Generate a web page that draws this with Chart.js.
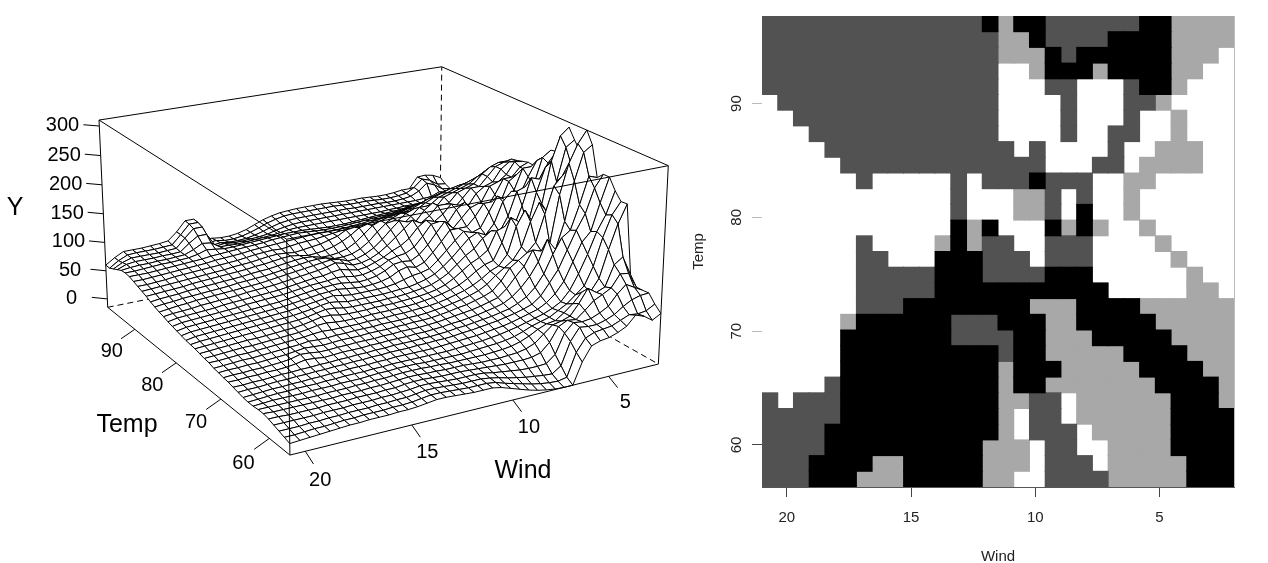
<!DOCTYPE html>
<html>
<head>
<meta charset="utf-8">
<title>Wind Temp</title>
<script src="https://cdn.jsdelivr.net/npm/chart.js@4/dist/chart.umd.js"></script>
<style>
  body { margin: 0; background: #fff; }
  canvas { position: absolute; top: 0; }
  #left { left: 0; }
  #right { left: 680px; }
</style>
</head>
<body>
<canvas id="left" width="690" height="563"></canvas>
<canvas id="right" width="588" height="563"></canvas>
<script>
// ranges of the two plots
const windLim = [20.7, 2.3];
const tempLim = [56, 97];
const yLim = [-15, 310];
const windTicks3d = [20, 15, 10, 5];
const tempTicks3d = [60, 70, 80, 90];
const yTicks3d = [0, 50, 100, 150, 200, 250, 300];

// surface heights, one row per temp step, one column per wind step
const surfaceY = [
[3,4,5,6,7,8,9,9,10,10, 10,11,11,12,14,16,16,15,14,13, 13,13,10,5,0,-5,-9,-12,-14,-15, -15,20,43,48,50,55,62,77,72,62, 70],
[6,6,7,8,8,9,10,10,11,11, 11,12,12,13,15,17,17,16,15,14, 14,14,12,7,3,-1,-5,-8,-10,-11, -8,30,50,56,58,60,66,72,70,72, 80],
[9,9,9,10,10,11,11,12,12,12, 13,13,14,14,16,18,18,17,16,15, 15,15,13,10,6,3,0,-2,-4,-5, 5,42,62,60,60,64,70,80,88,92, 93],
[12,12,12,12,12,13,13,13,14,14, 14,15,15,16,17,19,19,18,17,16, 16,16,15,12,10,8,6,5,5,6, 18,50,64,62,64,70,78,95,108,100, 92],
[15,15,14,14,14,14,15,15,15,16, 16,16,17,17,19,20,20,19,18,18, 18,17,16,15,14,13,13,13,14,18, 32,55,62,60,72,85,92,100,120,118, 92],
[17,16,16,16,16,16,16,16,17,17, 17,18,18,19,20,21,21,20,20,19, 19,19,18,17,17,17,18,19,22,28, 40,52,55,60,78,100,90,96,130,140, 108],
[17,17,17,17,17,17,17,18,18,18, 19,19,20,20,21,22,22,22,21,21, 20,20,20,20,20,21,22,24,28,34, 42,48,50,60,72,88,85,105,150,190, 220],
[16,17,18,18,18,18,19,19,19,20, 20,20,21,22,22,23,23,23,22,22, 22,22,22,23,24,25,26,28,31,36, 42,46,50,58,66,78,90,120,165,200, 219],
[16,17,18,19,19,20,20,20,21,21, 22,22,22,23,23,24,24,24,24,24, 24,24,25,26,27,28,30,32,35,38, 42,46,50,56,64,80,105,135,170,195, 232],
[17,18,19,20,20,21,21,22,22,23, 23,24,24,24,25,25,26,26,26,26, 26,27,28,29,30,31,33,35,37,40, 44,48,52,60,72,90,120,150,165,210, 250],
[19,20,20,21,22,22,23,23,24,24, 25,25,26,26,27,27,28,28,28,29, 29,30,30,31,33,34,36,38,40,43, 46,50,55,66,85,105,135,165,190,230, 250],
[21,21,22,22,23,24,24,25,25,26, 26,27,27,28,28,29,29,30,30,30, 31,31,32,33,35,36,38,40,42,45, 48,54,62,75,95,125,150,160,200,245, 240],
[23,23,24,24,25,25,26,28,31,30, 28,29,30,30,30,31,31,32,32,32, 33,33,34,35,37,38,40,42,45,48, 52,60,72,88,110,145,125,170,235,280, 290],
[24,25,25,26,26,27,28,30,34,33, 31,31,32,32,33,33,33,34,34,35, 35,35,36,37,39,41,43,45,48,52, 56,68,85,100,125,120,130,210,260,290, 310],
[26,27,27,28,28,29,30,31,33,35, 34,33,34,35,35,35,36,36,36,37, 37,38,38,39,41,43,46,48,52,56, 62,76,95,105,115,130,175,220,235,250, 270],
[27,28,29,30,30,31,32,33,34,35, 37,36,36,37,37,38,38,38,39,39, 39,40,40,41,43,45,48,51,55,60, 68,80,90,100,120,160,190,170,220,275, 285],
[30,30,31,32,32,33,34,35,36,37, 38,40,41,40,40,40,40,41,41,41, 42,42,43,44,45,47,50,54,58,64, 72,82,88,105,150,175,150,180,250,290, 302],
[31,32,33,34,35,35,36,37,38,39, 40,42,45,46,44,43,43,43,44,44, 44,45,45,46,48,50,53,57,62,70, 80,88,92,120,160,150,140,195,235,245, 250],
[33,34,35,36,37,38,38,39,40,41, 42,44,47,50,50,47,46,46,46,47, 47,47,48,49,50,52,55,60,68,78, 88,95,105,135,140,135,170,215,210,235, 252],
[35,36,37,38,39,40,41,42,43,44, 45,46,48,51,54,53,50,49,49,49, 49,50,50,51,53,55,58,64,72,84, 96,105,120,130,125,150,190,195,195,240, 250],
[36,38,39,40,41,42,43,44,45,46, 47,48,50,52,55,57,55,52,52,52, 52,52,53,54,55,58,62,68,78,90, 104,118,125,118,135,170,185,175,205,230, 235],
[37,40,41,42,43,44,45,46,47,48, 49,50,52,54,56,58,60,57,55,55, 55,55,56,58,62,66,68,72,84,98, 112,125,120,125,150,175,165,180,215,215, 212],
[39,42,43,44,45,46,47,48,49,50, 51,52,54,56,58,60,61,62,60,58, 57,58,60,64,72,76,72,78,92,108, 125,125,125,140,160,160,155,190,200,205, 210],
[41,44,45,46,47,48,49,50,51,52, 53,54,56,58,60,62,63,64,64,62, 60,61,64,70,78,80,78,86,100,118, 135,120,135,150,155,145,165,190,190,205, 211],
[43,46,47,48,49,50,51,52,54,55, 56,57,58,60,62,64,65,66,68,67, 64,64,67,72,80,84,86,94,110,128, 130,125,145,155,140,150,175,180,190,210, 208],
[45,48,49,50,51,52,54,55,56,57, 58,59,60,62,64,66,68,69,72,74, 70,67,69,74,80,88,94,104,120,130, 125,135,150,145,140,160,170,175,195,205, 205],
[48,50,51,52,54,55,56,57,58,60, 61,62,63,65,67,69,71,73,76,80, 76,70,71,75,82,92,104,116,128,120, 130,145,145,135,150,165,165,180,195,200, 203],
[50,52,54,55,57,58,59,60,61,62, 63,64,66,68,70,72,74,76,78,80, 78,72,73,78,86,98,112,125,120,118, 135,145,135,140,155,160,165,180,190,195, 195],
[53,55,56,58,59,60,61,62,63,65, 66,67,68,70,72,74,76,78,79,78, 74,74,76,82,92,106,118,120,110,122, 135,135,130,145,150,155,160,170,178,182, 182],
[56,58,59,60,62,63,64,65,66,67, 68,70,71,72,74,76,78,79,78,74, 74,76,80,88,100,112,118,105,112,122, 128,125,130,140,145,150,155,160,165,170, 172],
[60,61,62,63,64,66,67,68,69,70, 71,72,74,75,77,79,80,78,75,76, 78,82,88,96,106,110,100,104,112,118, 118,120,128,135,140,145,148,150,152,155, 158],
[63,64,65,66,67,68,69,70,71,72, 74,75,76,78,80,81,80,78,80,82, 84,88,92,100,102,98,100,104,108,110, 112,116,122,128,132,136,138,140,142,144, 145],
[66,66,67,68,70,71,72,73,74,75, 76,77,79,81,82,83,82,84,86,87, 88,90,92,94,94,95,97,100,102,104, 106,110,114,118,122,124,126,128,128,128, 130],
[69,69,70,71,72,73,74,75,76,78, 79,80,81,83,84,85,86,87,88,89, 90,90,90,90,91,92,93,95,96,98, 100,102,106,108,110,112,114,116,118,118, 120],
[72,72,72,73,74,75,76,77,78,80, 81,82,83,84,85,86,88,89,90,91, 90,89,88,88,88,89,90,91,92,93, 94,96,98,100,102,104,105,106,108,108, 110],
[73,73,74,75,76,76,77,78,81,86, 84,82,82,83,84,85,86,87,88,88, 88,87,86,85,85,85,86,87,88,89, 90,91,92,94,95,96,97,98,98,99, 100],
[72,74,75,75,76,76,77,78,84,92, 90,80,80,79,80,81,82,83,85,87, 88,88,88,88,88,88,88,88,88,88, 88,89,89,90,90,90,91,92,94,95, 96],
[68,74,76,76,76,77,77,78,90,100, 100,76,78,76,76,77,78,80,84,87, 89,90,90,90,90,90,90,90,90,90, 90,90,90,90,90,90,91,92,98,94, 94],
[64,72,77,77,77,77,78,79,94,108, 108,72,74,72,72,73,76,80,85,89, 91,92,92,92,92,92,92,92,91,91, 91,91,90,90,91,93,100,112,106,96, 94],
[60,70,77,78,78,78,79,80,95,111, 111,71,73,70,70,72,76,81,87,91, 94,95,95,95,95,95,95,94,93,93, 93,92,91,91,92,94,102,115,110,100, 98],
[60,70,78,78,78,79,80,82,95,112, 112,70,72,70,70,72,76,82,88,92, 95,96,97,97,97,97,96,95,94,94, 94,93,92,92,93,95,95,114,115,112, 105]
];

// image cells, top row first, left column first (W white, L light, D dark, K black)
const heatRows = [
"DDDDDDDDDDDDDDKLKKDDDDDDKKLLLL",
"DDDDDDDDDDDDDDDLLKDDDDKKKKLLLL",
"DDDDDDDDDDDDDDDLLLKDKKKKKKLLLW",
"DDDDDDDDDDDDDDDWWLKKKLKKKKLLWW",
"DDDDDDDDDDDDDDDWWWDDWWWDKKLWWW",
"WDDDDDDDDDDDDDDWWWWDWWWDDLWWWW",
"WWDDDDDDDDDDDDDWWWWDWWWDWWLWWW",
"WWWDDDDDDDDDDDDWWWWDWWDDWWLWWW",
"WWWWDDDDDDDDDDDDWDWWWWDWWLLLWW",
"WWWWWDDDDDDDDDDDDDWWWDDWLLLLWW",
"WWWWWWDWWWWWDWDDDKDDDWWLLWWWWW",
"WWWWWWWWWWWWDWWWLLDWDWWLWWWWWW",
"WWWWWWWWWWWWDWWWLLDWKWWLWWWWWW",
"WWWWWWWWWWWWKLKWWWKLKLWWLWWWWW",
"WWWWWWDWWWWLKLDDWWDDDWWWWLWWWW",
"WWWWWWDDWWWKKKDDDWDDDWWWWWLWWW",
"WWWWWWDDDDDKKKDDDDKKKWWWWWWLWW",
"WWWWWWDDDDDKKKKKKKKKKKWWWWWLLW",
"WWWWWWDDDKKKKKKKKLLLKKKKLLLLLL",
"WWWWWLKKKKKKDDDKKKLLKKKKKLLLLL",
"WWWWWKKKKKKKDDDDKKLLLKKKKKLLLL",
"WWWWWKKKKKKKKKKDKKLLLLLKKKKLLL",
"WWWWWKKKKKKKKKKLKKKLLLLLKKKKLL",
"WWWWDKKKKKKKKKKLKKLLLLLLLKKKKL",
"DWDDDKKKKKKKKKKLLDDWLLLLLLKKKL",
"DDDDDKKKKKKKKKKLWDDWLLLLLLKKKK",
"DDDDKKKKKKKKKKKLWDDDWLLLLLKKKK",
"DDDDKKKKKKKKKKLLLWDDWWLLLLKKKK",
"DDDKKKKLLKKKKKLLLWDDDWLLLLLKKK",
"DDDKKKLLLKKKKKLLWWDDDDLLLLLKKK"
];
const heatColors = { K: "#000000", D: "#525252", L: "#a8a8a8", W: "#ffffff" };
const heatWindLim = [21, 2];
const heatTempLim = [56.3, 97.7];
const heatWindTicks = [20, 15, 10, 5];
const heatTempTicks = [60, 70, 80, 90];

// camera, same form as persp(): theta 30, phi 20, expand 0.5
const theta = 0.5232, phi = 0.349, camD = 10.3322, boxE = 0.5006;
const camK = 2114.98, camX0 = 374.01, camY0 = 240.02;
const leftW = 690, leftH = 563;

function viewOf(u, v, w) {
  const c = Math.cos(theta), s = Math.sin(theta);
  const depth = u * s + v * c;
  const zv = w * Math.sin(phi) - depth * Math.cos(phi);
  const f = 1 / (camD - zv);
  return { x: (u * c - v * s) * f, y: (w * Math.cos(phi) + depth * Math.sin(phi)) * f, zv };
}

const toU = wind => -1 + 2 * (wind - windLim[0]) / (windLim[1] - windLim[0]);
const toV = temp => -1 + 2 * (temp - tempLim[0]) / (tempLim[1] - tempLim[0]);
const toW = y => boxE * (-1 + 2 * (y - yLim[0]) / (yLim[1] - yLim[0]));
const pt = (u, v, w) => { const q = viewOf(u, v, w); return { x: q.x, y: q.y }; };

const lineDs = (data, dash) => ({
  data, showLine: true, fill: false, borderColor: "#000", borderWidth: 1,
  borderDash: dash || [], pointRadius: 0, clip: false
});

// quads, nearest first because chart.js paints the first dataset last
const nI = surfaceY[0].length, nJ = surfaceY.length;
const quads = [];
for (let j = 0; j < nJ - 1; j++) {
  for (let i = 0; i < nI - 1; i++) {
    const c = [[i, j], [i + 1, j], [i + 1, j + 1], [i, j + 1], [i, j]];
    const uvw = c.map(([a, b]) => [-1 + 2 * a / (nI - 1), -1 + 2 * b / (nJ - 1), toW(surfaceY[b][a])]);
    let depth = 0;
    for (let k = 0; k < 4; k++) depth += viewOf(uvw[k][0], uvw[k][1], uvw[k][2]).zv;
    quads.push({ depth, data: uvw.map(q => pt(q[0], q[1], q[2])) });
  }
}
quads.sort((a, b) => b.depth - a.depth);
const quadSets = quads.map(q => ({
  data: q.data, showLine: true, fill: "shape", backgroundColor: "#fff", borderColor: "#000",
  borderWidth: 1, pointRadius: 0, clip: false
}));

const e = boxE;
const frontLines = [
  lineDs([pt(-1, -1, -e), pt(1, -1, -e), pt(1, -1, e), pt(1, 1, e), pt(-1, 1, e), pt(-1, -1, e), pt(1, -1, e)]),
  lineDs([pt(-1, -1, -e), pt(-1, -1, e)]),
  lineDs([pt(-1, -1, -e), pt(-1, 1, -e), pt(-1, 1, e)])
];
const windVec = [0, -0.074, -0.06 * e], tempVec = [-0.076, 0, -0.07 * e], yVec = [-0.06, 0.06, 0];
const axisTexts = [];
function addTicks(list, base, vec, dx, dy) {
  for (const t of list) {
    const b = base(t);
    frontLines.push(lineDs([pt(b[0], b[1], b[2]), pt(b[0] + vec[0], b[1] + vec[1], b[2] + vec[2])]));
    axisTexts.push({ text: String(t), dx, dy, at: pt(b[0] + 2 * vec[0], b[1] + 2 * vec[1], b[2] + 2 * vec[2]) });
  }
}
addTicks(windTicks3d, t => [toU(t), -1, -e], windVec, -1.5, 3.5);
addTicks(tempTicks3d, t => [-1, toV(t), -e], tempVec, 4.5, 3);
addTicks(yTicks3d, t => [-1, 1, toW(t)], yVec, -5, 2.5);
const backLines = [
  lineDs([pt(-1, 1, -e), pt(1, 1, -e), pt(1, -1, -e)], [6, 4]),
  lineDs([pt(1, 1, -e), pt(1, 1, e)], [6, 4])
];

const labels3d = {
  id: "labels3d",
  afterDatasetsDraw(chart) {
    const ctx = chart.ctx, sx = chart.scales.x, sy = chart.scales.y;
    ctx.save();
    ctx.fillStyle = "#000";
    ctx.textAlign = "center";
    ctx.textBaseline = "middle";
    ctx.font = '20px "Liberation Sans"';
    for (const t of axisTexts) ctx.fillText(t.text, sx.getPixelForValue(t.at.x) + t.dx, sy.getPixelForValue(t.at.y) + t.dy);
    ctx.font = '25px "Liberation Sans"';
    ctx.fillText("Wind", 523, 471);
    ctx.fillText("Temp", 127, 425);
    ctx.fillText("Y", 15, 208);
    ctx.restore();
  }
};

new Chart(document.getElementById("left"), {
  type: "scatter",
  data: { datasets: [...frontLines, ...quadSets, ...backLines] },
  plugins: [labels3d],
  options: {
    responsive: false, animation: false, events: [],
    layout: { padding: 0 },
    plugins: { legend: { display: false }, tooltip: { enabled: false } },
    scales: {
      x: { display: false, min: (0 - camX0) / camK, max: (leftW - camX0) / camK },
      y: { display: false, min: (camY0 - leftH) / camK, max: camY0 / camK }
    }
  }
});

// image plot, one floating bar per cell
const nCols = heatRows[0].length, nRows = heatRows.length;
const stepW = (heatWindLim[1] - heatWindLim[0]) / nCols;
const stepT = (heatTempLim[1] - heatTempLim[0]) / nRows;
const heatSets = Object.keys(heatColors).map(key => {
  const data = [];
  heatRows.forEach((row, r) => {
    for (let c = 0; c < nCols; c++) {
      if (row[c] !== key) continue;
      const top = heatTempLim[1] - r * stepT;
      data.push({ x: heatWindLim[0] + (c + 0.5) * stepW, y: [top - stepT, top] });
    }
  });
  return { data, backgroundColor: heatColors[key], borderWidth: 0, inflateAmount: 0.5, grouped: false, barPercentage: 1, categoryPercentage: 1 };
});

const rightEdge = {
  id: "rightEdge",
  afterDatasetsDraw(chart) {
    const { ctx, chartArea: a } = chart;
    ctx.save();
    ctx.strokeStyle = "#bbb";
    ctx.beginPath();
    ctx.moveTo(a.right + 0.5, a.top);
    ctx.lineTo(a.right + 0.5, a.bottom);
    ctx.stroke();
    ctx.restore();
  }
};

const axisFont = { family: "Liberation Sans", size: 15 };
new Chart(document.getElementById("right"), {
  type: "bar",
  data: { datasets: heatSets },
  plugins: [rightEdge],
  options: {
    responsive: false, animation: false, events: [],
    layout: { padding: { top: 15, right: 34 } },
    plugins: { legend: { display: false }, tooltip: { enabled: false } },
    scales: {
      x: {
        type: "linear", offset: false, min: heatWindLim[1], max: heatWindLim[0], reverse: true,
        afterBuildTicks: s => { s.ticks = heatWindTicks.map(value => ({ value })); },
        afterFit: s => { s.height = 76; },
        grid: { offset: false, drawOnChartArea: false, drawTicks: true, tickLength: 10, color: "#444" },
        border: { display: true, color: "#555" },
        ticks: { color: "#222", font: axisFont, maxRotation: 0, padding: 12 },
        title: { display: true, text: "Wind", color: "#222", font: axisFont, padding: { top: 17, bottom: -3 } }
      },
      y: {
        min: heatTempLim[0], max: heatTempLim[1],
        afterBuildTicks: s => { s.ticks = heatTempTicks.map(value => ({ value })); },
        afterFit: s => { s.width = 82; },
        grid: { drawOnChartArea: false, drawTicks: true, tickLength: 10, color: c => (c.tick && c.tick.value === 60 ? "#444" : "#bbb") },
        border: { display: false },
        ticks: { color: "#222", font: axisFont, minRotation: 90, maxRotation: 90, padding: 7, crossAlign: "center" },
        title: { display: true, text: "Temp", color: "#222", font: axisFont, padding: { top: 10, bottom: 0 } }
      }
    }
  }
});
</script>
</body>
</html>
